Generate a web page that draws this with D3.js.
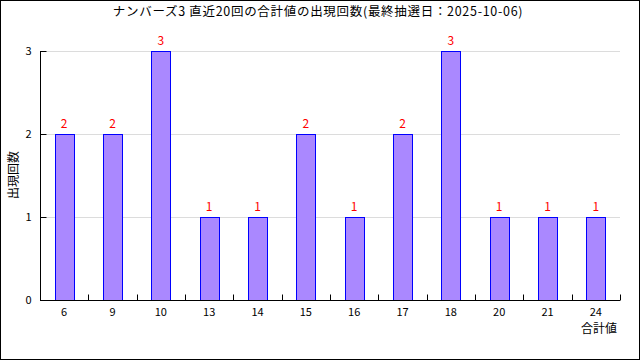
<!DOCTYPE html>
<html>
<head>
<meta charset="utf-8">
<script src="https://cdn.jsdelivr.net/npm/d3@7"></script>
<style>
  body { margin: 0; background: #fff; }
  text { font-family: "Noto Sans CJK JP", "DejaVu Sans", sans-serif; }
</style>
</head>
<body>
<svg id="chart"></svg>
<script>
// Sum values (categories) and how often each came up
const sums = ["6", "9", "10", "13", "14", "15", "16", "17", "18", "20", "21", "24"]
const counts = [2, 2, 3, 1, 1, 2, 1, 2, 3, 1, 1, 1]
const yTicks = [0, 1, 2, 3]

const title = "ナンバーズ3 直近20回の合計値の出現回数(最終抽選日：2025-10-06)"
const yLabel = "出現回数"
const xLabel = "合計値"

const width = 640
const height = 360

const svg = d3.select("#chart")
  .attr("width", width)
  .attr("height", height)

// Outer frame
svg.append("rect")
  .attr("x", 0.5).attr("y", 0.5)
  .attr("width", width - 1).attr("height", height - 1)
  .attr("fill", "white")
  .attr("stroke", "black")

const x = d3.scaleBand()
  .domain(sums)
  .range([40, 620])

const y = d3.scaleLinear()
  .domain([0, 3])
  .range([300, 51])

// Gridlines
svg.append("g")
  .selectAll("line")
  .data(yTicks.slice(1))
  .join("line")
  .attr("x1", 40).attr("x2", 620)
  .attr("y1", d => Math.round(y(d)) + 0.5)
  .attr("y2", d => Math.round(y(d)) + 0.5)
  .attr("stroke", "#dcdcdc")

// Bars
const barW = x.bandwidth() * 0.4
svg.append("g")
  .selectAll("rect")
  .data(counts)
  .join("rect")
  .attr("x", (d, i) => Math.round(x(sums[i]) + (x.bandwidth() - barW) / 2) + 0.5)
  .attr("y", d => Math.round(y(d)) + 0.5)
  .attr("width", Math.round(barW))
  .attr("height", d => Math.round(y(0)) - Math.round(y(d)))
  .attr("fill", "#aa88ff")
  .attr("stroke", "#0000ff")

// Value labels
svg.append("g")
  .selectAll("text")
  .data(counts)
  .join("text")
  .attr("x", (d, i) => x(sums[i]) + x.bandwidth() / 2)
  .attr("y", d => y(d) - 6)
  .attr("text-anchor", "middle")
  .attr("font-size", 12)
  .attr("fill", "red")
  .text(d => d)

// Y axis
svg.append("g")
  .attr("transform", "translate(40.5,0)")
  .call(d3.axisLeft(y).tickValues(yTicks).tickSize(-6).tickPadding(9).tickFormat(d3.format("d")))
  .call(g => g.select(".domain").attr("d", `M0,${y(0)}V${y(3)}`))
  .call(g => g.selectAll(".tick text").attr("font-size", 11).attr("font-family", "Noto Sans CJK JP"))

// X axis: ticks sit on the band boundaries
const bounds = sums.map(s => x(s)).slice(1).concat([620])
const xAxis = svg.append("g")
  .attr("transform", `translate(0,${y(0) + 0.5})`)
xAxis.append("line")
  .attr("x1", 40).attr("x2", 620)
  .attr("stroke", "black")
xAxis.selectAll(".bt")
  .data(bounds)
  .join("line")
  .attr("class", "bt")
  .attr("x1", d => Math.round(d) + 0.5).attr("x2", d => Math.round(d) + 0.5)
  .attr("y1", 0).attr("y2", -6)
  .attr("stroke", "black")
xAxis.selectAll("text")
  .data(sums)
  .join("text")
  .attr("x", d => x(d) + x.bandwidth() / 2)
  .attr("y", 15)
  .attr("text-anchor", "middle")
  .attr("font-size", 11)
  .text(d => d)

// Title and axis names
svg.append("text")
  .attr("x", 318).attr("y", 16)
  .attr("text-anchor", "middle")
  .attr("font-size", 12.5)
  .attr("letter-spacing", 0.7)
  .text(title)

svg.append("text")
  .attr("transform", "translate(18,175) rotate(-90)")
  .attr("text-anchor", "middle")
  .attr("font-size", 12)
  .text(yLabel)

svg.append("text")
  .attr("x", 617).attr("y", 333)
  .attr("text-anchor", "end")
  .attr("font-size", 12)
  .text(xLabel)
</script>
</body>
</html>
